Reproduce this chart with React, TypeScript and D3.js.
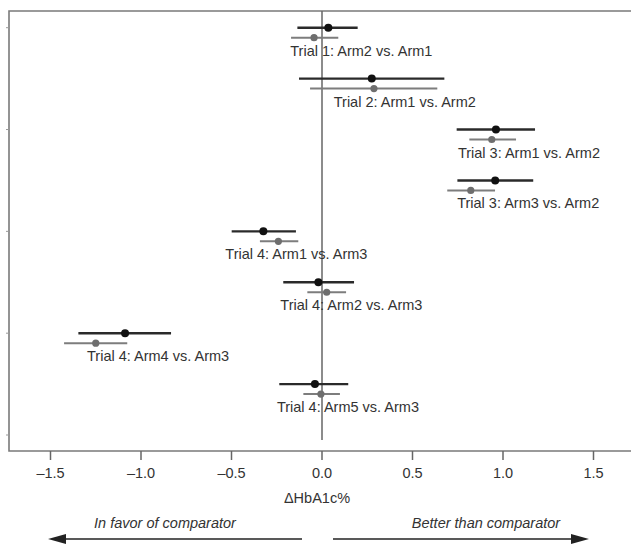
import React from "react";
import * as d3 from "d3";

const labels = [
  "Trial 1: Arm2 vs. Arm1",
  "Trial 2: Arm1 vs. Arm2",
  "Trial 3: Arm1 vs. Arm2",
  "Trial 3: Arm3 vs. Arm2",
  "Trial 4: Arm1 vs. Arm3",
  "Trial 4: Arm2 vs. Arm3",
  "Trial 4: Arm4 vs. Arm3",
  "Trial 4: Arm5 vs. Arm3",
];
// dark series (estimate, lower, upper)
const darkEst = [0.035, 0.275, 0.961, 0.957, -0.324, -0.02, -1.088, -0.039];
const darkLo = [-0.136, -0.127, 0.744, 0.748, -0.499, -0.214, -1.346, -0.236];
const darkHi = [0.197, 0.676, 1.177, 1.167, -0.144, 0.177, -0.834, 0.145];
// grey series
const greyEst = [-0.044, 0.287, 0.938, 0.822, -0.241, 0.026, -1.25, -0.006];
const greyLo = [-0.171, -0.066, 0.814, 0.692, -0.343, -0.081, -1.425, -0.103];
const greyHi = [0.09, 0.637, 1.072, 0.956, -0.131, 0.133, -1.076, 0.099];

const xTicks = [-1.5, -1.0, -0.5, 0.0, 0.5, 1.0, 1.5];
const yTicks = [0, 2, 4, 6, 8];
const xTitle = "ΔHbA1c%";
const leftNote = "In favor of comparator";
const rightNote = "Better than comparator";

export default function App() {
  const W = 631;
  const H = 546;
  const x = d3.scaleLinear().domain([-1.5, 1.5]).range([50.5, 593.5]);
  const y = d3.scaleLinear().domain([0, 8]).range([27.7, 435]);
  const boxLeft = 9;
  const boxTop = 11;
  const boxBottom = 451;
  const boxRight = 640;
  const font = "'Liberation Sans', Arial, Helvetica, sans-serif";
  const fmt = (v: number) => (v < 0 ? "\u2013" + Math.abs(v).toFixed(1) : v.toFixed(1));
  const x0 = x(0);

  return (
    <div style={{ position: "absolute", left: 0, top: 0 }}>
      <svg width={W} height={H} style={{ display: "block", background: "#fff" }} fontFamily={font}>
        <path
          d={`M${boxRight},${boxTop}H${boxLeft}V${boxBottom}H${boxRight}`}
          fill="none"
          stroke="#7a7a7a"
          strokeWidth={1.6}
        />
        {yTicks.map((t) => (
          <line key={"yt" + t} x1={boxLeft - 3} x2={boxLeft} y1={y(t)} y2={y(t)} stroke="#999" strokeWidth={1} />
        ))}
        <line x1={x0} x2={x0} y1={boxTop} y2={440} stroke="#666" strokeWidth={1.5} />
        {xTicks.map((t) => (
          <g key={"xt" + t}>
            <line x1={x(t)} x2={x(t)} y1={boxBottom} y2={460} stroke="#666" strokeWidth={1.5} />
            <text x={x(t)} y={478} textAnchor="middle" fontSize={14.5} fill="#333">
              {fmt(t)}
            </text>
          </g>
        ))}
        <text x={317} y={503} textAnchor="middle" fontSize={14.5} fill="#333">
          {xTitle}
        </text>
        <text x={165} y={528} textAnchor="middle" fontSize={14.5} fontStyle="italic" fill="#333">
          {leftNote}
        </text>
        <text x={486} y={528} textAnchor="middle" fontSize={14.5} fontStyle="italic" fill="#333">
          {rightNote}
        </text>
        <line x1={302} x2={60} y1={539} y2={539} stroke="#222" strokeWidth={1.5} />
        <path d={`M48,539L66,534L66,544Z`} fill="#222" />
        <line x1={333} x2={576} y1={539} y2={539} stroke="#222" strokeWidth={1.5} />
        <path d={`M589,539L571,534L571,544Z`} fill="#222" />
        {labels.map((lab, i) => {
          const yr = y(i);
          return (
            <g key={lab}>
              <line x1={x(greyLo[i])} x2={x(greyHi[i])} y1={yr + 10} y2={yr + 10} stroke="#7d7d7d" strokeWidth={2} />
              <circle cx={x(greyEst[i])} cy={yr + 10} r={3.6} fill="#6e6e6e" />
              <line x1={x(darkLo[i])} x2={x(darkHi[i])} y1={yr} y2={yr} stroke="#2a2a2a" strokeWidth={2.4} />
              <circle cx={x(darkEst[i])} cy={yr} r={4} fill="#111" />
              <text x={x(darkEst[i]) + 33} y={yr + 28} textAnchor="middle" fontSize={14.5} fill="#333">
                {lab}
              </text>
            </g>
          );
        })}
      </svg>
    </div>
  );
}
